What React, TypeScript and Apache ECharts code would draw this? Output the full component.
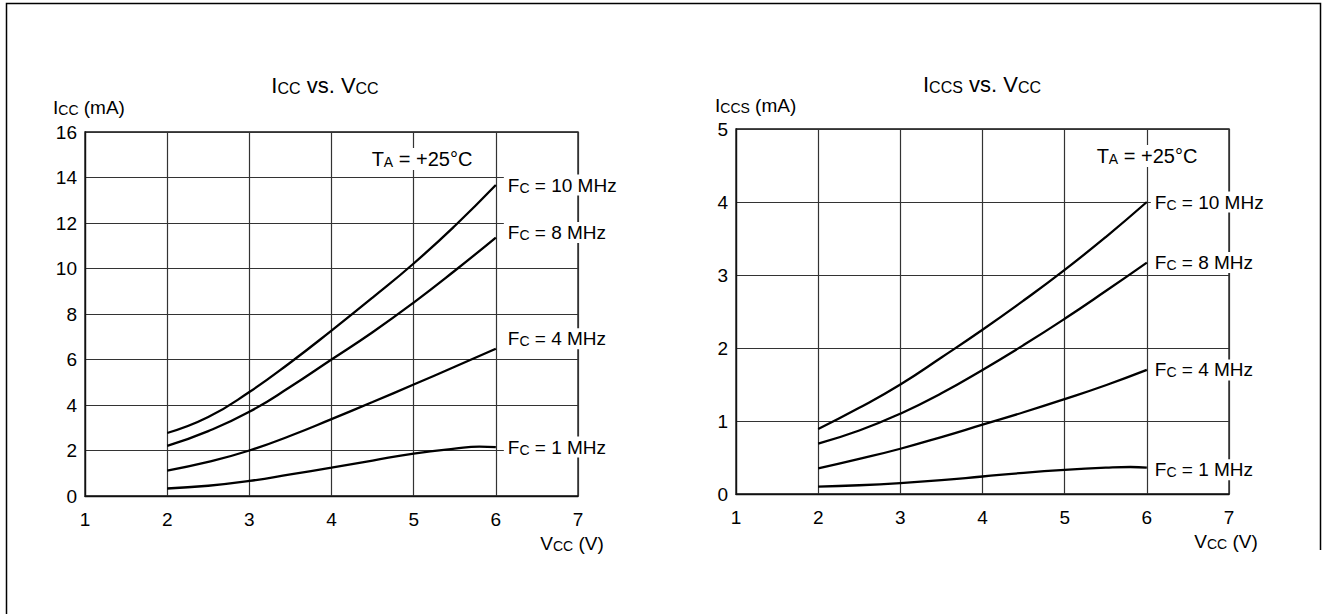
import React, { useEffect, useRef } from "react";
import * as echarts from "echarts";

// ---- data ----
const X_MIN = 1;
const X_MAX = 7;
const VCC = [2, 2.5, 3, 3.5, 4, 4.5, 5, 5.5, 6];
const VCC_1 = [2, 2.5, 3, 3.5, 4, 4.5, 5, 5.5, 5.8, 6];

// Left: Icc (mA) vs Vcc
const ICC_10 = [2.77, 3.47, 4.57, 5.87, 7.27, 8.72, 10.22, 11.87, 13.67];
const ICC_8 = [2.2, 2.85, 3.7, 4.8, 6.0, 7.2, 8.5, 9.9, 11.36];
const ICC_4 = [1.12, 1.5, 2.0, 2.65, 3.38, 4.13, 4.9, 5.68, 6.47];
const ICC_1 = [0.33, 0.45, 0.66, 0.95, 1.25, 1.56, 1.86, 2.08, 2.17, 2.15];

// Right: Iccs (mA) vs Vcc
const ICCS_10 = [0.89, 1.18, 1.5, 1.87, 2.25, 2.65, 3.07, 3.52, 4.0];
const ICCS_8 = [0.69, 0.87, 1.1, 1.38, 1.7, 2.04, 2.4, 2.78, 3.17];
const ICCS_4 = [0.35, 0.48, 0.62, 0.78, 0.95, 1.12, 1.3, 1.49, 1.7];
const ICCS_1 = [0.1, 0.12, 0.15, 0.19, 0.24, 0.29, 0.33, 0.36, 0.37, 0.36];

const LEFT_Y = { min: 0, max: 16, interval: 2 };
const RIGHT_Y = { min: 0, max: 5, interval: 1 };

const FREQ_LABELS = ["10", "8", "4", "1"];

const FONT = "'Liberation Sans', Arial, Helvetica, sans-serif";

const pairs = (xs: number[], ys: number[]) => xs.map((x, i) => [x, ys[i]]);

const richTok = (size: number) => ({
  fontSize: size,
  fontFamily: FONT,
  color: "#000",
  verticalAlign: "bottom",
});

function App() {
  const ref = useRef<HTMLDivElement>(null);

  useEffect(() => {
    if (!ref.current) return;
    const chart = echarts.init(ref.current, undefined, { renderer: "svg" });

    const gridColor = "#333";

    const xAxisBase = (gridIndex: number) => ({
      type: "value" as const,
      gridIndex,
      min: X_MIN,
      max: X_MAX,
      interval: 1,
      axisLine: { show: true, lineStyle: { color: "#111", width: 1.3 } },
      axisTick: { show: false },
      splitLine: { show: true, lineStyle: { color: gridColor, width: 1.2 } },
      axisLabel: {
        color: "#000",
        fontSize: 19,
        fontFamily: FONT,
        margin: 14,
      },
    });

    const yAxisBase = (gridIndex: number, cfg: { min: number; max: number; interval: number }) => ({
      type: "value" as const,
      gridIndex,
      min: cfg.min,
      max: cfg.max,
      interval: cfg.interval,
      axisLine: { show: true, lineStyle: { color: "#111", width: 1.3 } },
      axisTick: { show: false },
      splitLine: { show: true, lineStyle: { color: gridColor, width: 1.2 } },
      axisLabel: {
        color: "#000",
        fontSize: 19,
        fontFamily: FONT,
        margin: 8,
      },
    });

    const curve = (
      axis: number,
      data: number[][],
      freq: string,
      offset: number[],
      distance: number
    ) => ({
      type: "line" as const,
      xAxisIndex: axis,
      yAxisIndex: axis,
      data,
      smooth: 0.5,
      symbol: "none",
      lineStyle: { color: "#000", width: 2.3 },
      z: 3,
      endLabel: {
        show: true,
        distance,
        offset,
        formatter: `{f|F}{s|C}{f| = ${freq} MHz}`,
        backgroundColor: "#fff",
        padding: [1, 4, 1, 4],
        rich: { f: richTok(19), s: richTok(14) },
      },
    });

    const textEl = (
      x: number,
      y: number,
      text: string,
      big: number,
      small: number,
      align: string,
      bg?: boolean
    ) => ({
      type: "text",
      x,
      y,
      z: 10,
      style: {
        text,
        align,
        verticalAlign: "middle",
        backgroundColor: bg ? "#fff" : undefined,
        padding: bg ? [1, 3, 1, 3] : undefined,
        rich: {
          b: { fontSize: big, fontFamily: FONT, fill: "#000", verticalAlign: "bottom" },
          s: { fontSize: small, fontFamily: FONT, fill: "#000", verticalAlign: "bottom" },
        },
      },
    });

    const option = {
      animation: false,
      backgroundColor: "#fff",
      grid: [
        { left: 85, top: 132, width: 493, height: 364, show: true, borderColor: "#111", borderWidth: 1.3, backgroundColor: "transparent" },
        { left: 736, top: 129, width: 493, height: 365, show: true, borderColor: "#111", borderWidth: 1.3, backgroundColor: "transparent" },
      ],
      xAxis: [xAxisBase(0), xAxisBase(1)],
      yAxis: [yAxisBase(0, LEFT_Y), yAxisBase(1, RIGHT_Y)],
      series: [
        curve(0, pairs(VCC, ICC_10), FREQ_LABELS[0], [0, 0], 8),
        curve(0, pairs(VCC, ICC_8), FREQ_LABELS[1], [0, -5], 8),
        curve(0, pairs(VCC, ICC_4), FREQ_LABELS[2], [0, -10], 8),
        curve(0, pairs(VCC_1, ICC_1), FREQ_LABELS[3], [0, 0], 8),
        curve(1, pairs(VCC, ICCS_10), FREQ_LABELS[0], [0, 0], 4),
        curve(1, pairs(VCC, ICCS_8), FREQ_LABELS[1], [0, 0], 4),
        curve(1, pairs(VCC, ICCS_4), FREQ_LABELS[2], [0, 0], 4),
        curve(1, pairs(VCC_1, ICCS_1), FREQ_LABELS[3], [0, 2], 4),
      ],
      graphic: [
        {
          type: "polyline",
          z: 0,
          shape: { points: [[6.5, 614], [6.5, 3.5], [1320.5, 3.5], [1320.5, 550]] },
          style: { stroke: "#000", lineWidth: 1.5, fill: "none" },
        },
        // titles
        textEl(325, 85, "{b|I}{s|CC}{b| vs. V}{s|CC}", 22, 16, "center"),
        textEl(982, 84, "{b|I}{s|CCS}{b| vs. V}{s|CC}", 22, 16, "center"),
        // y-axis names
        textEl(53, 107, "{b|I}{s|CC}{b| (mA)}", 19, 14, "left"),
        textEl(715, 105, "{b|I}{s|CCS}{b| (mA)}", 19, 14, "left"),
        // x-axis names
        textEl(572, 543, "{b|V}{s|CC}{b| (V)}", 19, 14, "center"),
        textEl(1226, 541, "{b|V}{s|CC}{b| (V)}", 19, 14, "center"),
        // temperature notes
        textEl(422, 159, "{b|T}{s|A}{b| = +25°C}", 20, 14, "center", true),
        textEl(1147, 156, "{b|T}{s|A}{b| = +25°C}", 20, 14, "center", true),
      ],
    };

    chart.setOption(option as any);
    return () => chart.dispose();
  }, []);

  return (
    <div
      ref={ref}
      style={{ position: "fixed", left: 0, top: 0, width: 1322, height: 614, background: "#fff" }}
    />
  );
}

export default App;
